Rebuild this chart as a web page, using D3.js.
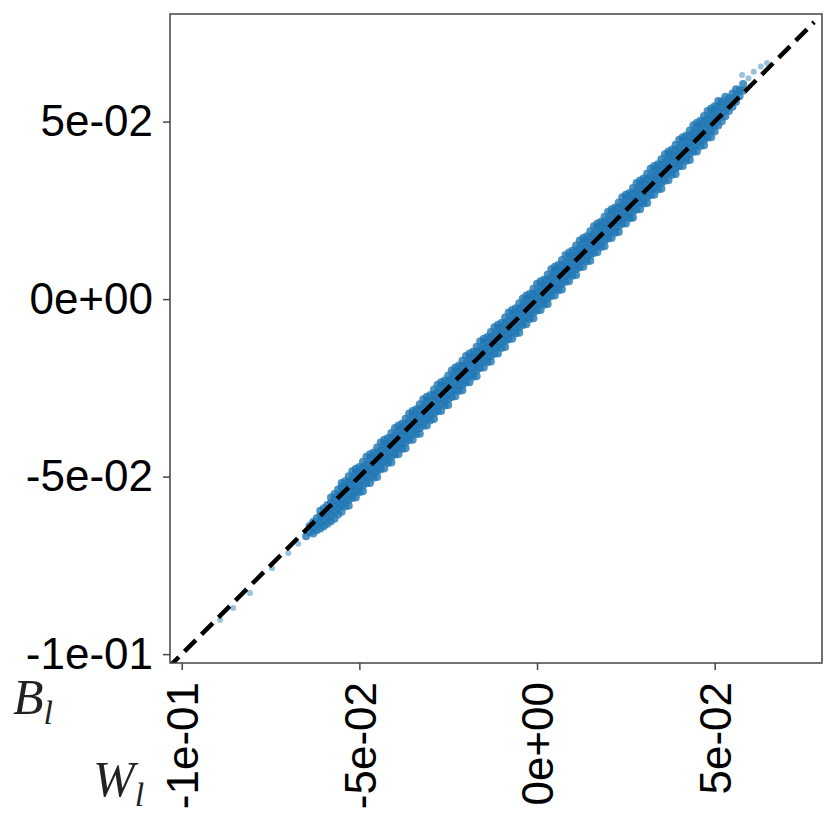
<!DOCTYPE html>
<html>
<head>
<meta charset="utf-8">
<script src="https://cdn.jsdelivr.net/npm/d3@7"></script>
<style>
  html, body { margin: 0; padding: 0; background: #fff; }
  svg { display: block; }
</style>
</head>
<body>
<svg id="chart" width="832" height="834"></svg>
<script>
// ---- DATA (values in units of 1e-3) ----
// Each row: [W_l value, [B_l values observed at that W_l]]
const bandRows = [
  [-65, [-66.8]],
  [-64, [-65.6, -63.9]],
  [-63, [-66.0, -64.3, -62.8]],
  [-62, [-65.1, -63.4, -61.7]],
  [-61, [-64.6, -62.8, -61.0, -59.6]],
  [-60, [-64.0, -62.2, -60.5, -58.9]],
  [-59, [-63.3, -61.4, -59.7, -58.0]],
  [-58, [-62.6, -60.8, -59.1, -57.4, -55.9]],
  [-57, [-61.9, -60.0, -58.2, -56.5, -54.9]],
  [-56, [-60.7, -58.9, -57.2, -55.4, -53.6]],
  [-55, [-59.9, -58.1, -56.4, -54.6, -52.9, -51.8]],
  [-54, [-58.4, -56.7, -54.7, -53.0, -51.3]],
  [-53, [-58.2, -56.6, -54.9, -53.2, -51.5, -49.9]],
  [-52, [-56.0, -54.2, -52.4, -50.7, -48.5]],
  [-51, [-55.9, -54.1, -52.4, -50.6, -48.9, -47.8]],
  [-50, [-54.4, -52.7, -50.7, -49.0, -47.3]],
  [-49, [-54.1, -52.5, -50.8, -49.1, -47.4, -45.8]],
  [-48, [-51.9, -50.1, -48.3, -46.6, -44.4]],
  [-47, [-51.8, -50.0, -48.3, -46.5, -44.8, -43.7]],
  [-46, [-50.3, -48.6, -46.6, -44.9, -43.2]],
  [-45, [-50.1, -48.5, -46.8, -45.1, -43.4, -41.8]],
  [-44, [-47.9, -46.1, -44.3, -42.6, -40.4]],
  [-43, [-47.7, -45.9, -44.2, -42.4, -40.7, -39.6]],
  [-42, [-46.2, -44.5, -42.5, -40.8, -39.1]],
  [-41, [-46.0, -44.4, -42.7, -41.0, -39.3, -37.7]],
  [-40, [-43.8, -42.0, -40.2, -38.5, -36.3]],
  [-39, [-43.7, -41.9, -40.2, -38.4, -36.7, -35.6]],
  [-38, [-42.2, -40.5, -38.5, -36.8, -35.1]],
  [-37, [-42.0, -40.4, -38.7, -37.0, -35.3, -33.7]],
  [-36, [-39.7, -37.9, -36.1, -34.4, -32.2]],
  [-35, [-39.6, -37.8, -36.1, -34.3, -32.6, -31.5]],
  [-34, [-38.1, -36.4, -34.4, -32.7, -31.0]],
  [-33, [-37.9, -36.3, -34.6, -32.9, -31.2, -29.6]],
  [-32, [-35.7, -33.9, -32.1, -30.4, -28.2]],
  [-31, [-35.6, -33.8, -32.1, -30.3, -28.6, -27.5]],
  [-30, [-34.1, -32.4, -30.4, -28.7, -27.0]],
  [-29, [-33.8, -32.2, -30.5, -28.8, -27.1, -25.5]],
  [-28, [-31.6, -29.8, -28.0, -26.3, -24.1]],
  [-27, [-31.5, -29.7, -28.0, -26.2, -24.5, -23.4]],
  [-26, [-30.0, -28.3, -26.3, -24.6, -22.9]],
  [-25, [-29.8, -28.2, -26.5, -24.8, -23.1, -21.5]],
  [-24, [-27.6, -25.8, -24.0, -22.3, -20.1]],
  [-23, [-27.4, -25.6, -23.9, -22.1, -20.4, -19.3]],
  [-22, [-25.9, -24.2, -22.2, -20.5, -18.8]],
  [-21, [-25.7, -24.1, -22.4, -20.7, -19.0, -17.4]],
  [-20, [-23.5, -21.7, -19.9, -18.2, -16.0]],
  [-19, [-23.4, -21.6, -19.9, -18.1, -16.4, -15.3]],
  [-18, [-21.9, -20.2, -18.2, -16.5, -14.8]],
  [-17, [-21.7, -20.1, -18.4, -16.7, -15.0, -13.4]],
  [-16, [-19.4, -17.6, -15.8, -14.1, -11.9]],
  [-15, [-19.3, -17.5, -15.8, -14.0, -12.3, -11.2]],
  [-14, [-17.8, -16.1, -14.1, -12.4, -10.7]],
  [-13, [-17.6, -16.0, -14.3, -12.6, -10.9, -9.3]],
  [-12, [-15.4, -13.6, -11.8, -10.1, -7.9]],
  [-11, [-15.3, -13.5, -11.8, -10.0, -8.3, -7.2]],
  [-10, [-13.8, -12.1, -10.1, -8.4, -6.7]],
  [-9, [-13.5, -11.9, -10.2, -8.5, -6.8, -5.2]],
  [-8, [-11.3, -9.5, -7.7, -6.0, -3.8]],
  [-7, [-11.2, -9.4, -7.7, -5.9, -4.2, -3.1]],
  [-6, [-9.7, -8.0, -6.0, -4.3, -2.6]],
  [-5, [-9.5, -7.9, -6.2, -4.5, -2.8, -1.2]],
  [-4, [-7.3, -5.5, -3.7, -2.0, 0.2]],
  [-3, [-7.1, -5.3, -3.6, -1.8, -0.1, 1.0]],
  [-2, [-5.6, -3.9, -1.9, -0.2, 1.5]],
  [-1, [-5.4, -3.8, -2.1, -0.4, 1.3, 2.9]],
  [0, [-3.2, -1.4, 0.4, 2.1, 4.3]],
  [1, [-3.1, -1.3, 0.4, 2.2, 3.9, 5.0]],
  [2, [-1.6, 0.1, 2.1, 3.8, 5.5]],
  [3, [-1.4, 0.2, 1.9, 3.6, 5.3, 6.9]],
  [4, [0.9, 2.7, 4.5, 6.2, 8.4]],
  [5, [1.0, 2.8, 4.5, 6.3, 8.0, 9.1]],
  [6, [2.5, 4.2, 6.2, 7.9, 9.6]],
  [7, [2.7, 4.3, 6.0, 7.7, 9.4, 11.0]],
  [8, [4.9, 6.7, 8.5, 10.2, 12.4]],
  [9, [5.0, 6.8, 8.5, 10.3, 12.0, 13.1]],
  [10, [6.6, 8.3, 10.3, 12.0, 13.7]],
  [11, [6.8, 8.4, 10.1, 11.8, 13.5, 15.1]],
  [12, [9.0, 10.8, 12.6, 14.3, 16.5]],
  [13, [9.1, 10.9, 12.6, 14.4, 16.1, 17.2]],
  [14, [10.6, 12.3, 14.3, 16.0, 17.7]],
  [15, [10.8, 12.4, 14.1, 15.8, 17.5, 19.1]],
  [16, [13.0, 14.8, 16.6, 18.3, 20.5]],
  [17, [13.2, 15.0, 16.7, 18.5, 20.2, 21.3]],
  [18, [14.7, 16.4, 18.4, 20.1, 21.8]],
  [19, [14.9, 16.5, 18.2, 19.9, 21.6, 23.2]],
  [20, [17.1, 18.9, 20.7, 22.4, 24.6]],
  [21, [17.2, 19.0, 20.7, 22.5, 24.2, 25.3]],
  [22, [18.7, 20.4, 22.4, 24.1, 25.8]],
  [23, [18.9, 20.5, 22.2, 23.9, 25.6, 27.2]],
  [24, [21.2, 23.0, 24.8, 26.5, 28.7]],
  [25, [21.3, 23.1, 24.8, 26.6, 28.3, 29.4]],
  [26, [22.8, 24.5, 26.5, 28.2, 29.9]],
  [27, [23.0, 24.6, 26.3, 28.0, 29.7, 31.3]],
  [28, [25.2, 27.0, 28.8, 30.5, 32.7]],
  [29, [25.3, 27.1, 28.8, 30.6, 32.3, 33.4]],
  [30, [26.9, 28.6, 30.6, 32.3, 34.0]],
  [31, [27.1, 28.7, 30.4, 32.1, 33.8, 35.4]],
  [32, [29.3, 31.1, 32.9, 34.6, 36.8]],
  [33, [29.4, 31.2, 32.9, 34.7, 36.4, 37.5]],
  [34, [30.9, 32.6, 34.6, 36.3, 38.0]],
  [35, [31.1, 32.7, 34.4, 36.1, 37.8, 39.4]],
  [36, [33.3, 35.1, 36.9, 38.6, 40.8]],
  [37, [33.5, 35.3, 37.0, 38.8, 40.5, 41.6]],
  [38, [35.0, 36.7, 38.7, 40.4, 42.1]],
  [39, [35.2, 36.8, 38.5, 40.2, 41.9, 43.5]],
  [40, [37.4, 39.2, 41.0, 42.7, 44.9]],
  [41, [37.5, 39.3, 41.0, 42.8, 44.5, 45.6]],
  [42, [39.0, 40.7, 42.7, 44.4, 46.1]],
  [43, [39.2, 40.8, 42.5, 44.2, 45.9, 47.5]],
  [44, [41.5, 43.3, 45.1, 46.8, 49.0]],
  [45, [41.6, 43.4, 45.1, 46.9, 48.6, 49.7]],
  [46, [43.1, 44.8, 46.8, 48.5, 50.2]],
  [47, [43.3, 44.9, 46.6, 48.3, 50.0, 51.6]],
  [48, [45.5, 47.3, 49.1, 50.8, 53.0]],
  [49, [45.6, 47.4, 49.1, 50.9, 52.6, 53.7]],
  [50, [47.2, 48.9, 50.9, 52.6, 54.3]],
  [51, [48.9, 50.8, 52.6, 54.4, 55.8]],
  [52, [50.1, 52.0, 53.9, 55.7]],
  [53, [51.5, 53.4, 55.2, 57.0]],
  [54, [53.0, 54.9, 56.6]],
  [55, [54.2, 56.0, 57.9]],
  [56, [55.6, 57.5, 59.1]],
  [57, [57.1, 58.9]],
  [58, [58.7, 60.6]]
];
// sparse points away from the dense band: [W_l, B_l] (1e-3 units)
const outlierW = [-89.2, -85.5, -80.8, -74.6, -70.0, -67.2, 26.8, 57.7, 59.5, 61.0, 63.0, 64.7];
const outlierB = [-90.4, -87.0, -82.8, -75.8, -71.5, -68.9, 22.6, 63.1, 62.2, 64.0, 65.5, 66.5];

const tickValues = [-0.1, -0.05, 0, 0.05];
const tickLabels = ["-1e-01", "-5e-02", "0e+00", "5e-02"];
const xDomain = [-0.1033, 0.0802];
const yDomain = [-0.1025, 0.0803];
const refLine = [-0.104, 0.078];   // y = x reference line extent
const UNIT = 1e-3;

// ---- build points ----
const points = [];
bandRows.forEach(([w, bs]) => bs.forEach(b => points.push({w: w * UNIT, b: b * UNIT})));
const outliers = outlierW.map((w, i) => ({w: w * UNIT, b: outlierB[i] * UNIT}));

// ---- layout ----
const svg = d3.select("#chart");
const L = 170, R = 822, T = 14, B = 663;
const x = d3.scaleLinear().domain(xDomain).range([L, R]);
const y = d3.scaleLinear().domain(yDomain).range([B, T]);

svg.append("defs").append("clipPath").attr("id", "clip")
  .append("rect").attr("x", L).attr("y", T).attr("width", R - L).attr("height", B - T);

const plot = svg.append("g").attr("clip-path", "url(#clip)");

plot.append("g").selectAll("circle").data(points).join("circle")
  .attr("cx", d => x(d.w))
  .attr("cy", d => y(d.b))
  .attr("r", 4)
  .attr("fill", "#1f77b4")
  .attr("fill-opacity", 0.8);

plot.append("g").selectAll("circle").data(outliers).join("circle")
  .attr("cx", d => x(d.w))
  .attr("cy", d => y(d.b))
  .attr("r", 3)
  .attr("fill", "#1f77b4")
  .attr("fill-opacity", 0.45);

plot.append("line")
  .attr("x1", x(refLine[0])).attr("y1", y(refLine[0]))
  .attr("x2", x(refLine[1])).attr("y2", y(refLine[1]))
  .attr("stroke", "#000")
  .attr("stroke-width", 4.5)
  .attr("stroke-dasharray", "16,8");

// frame
svg.append("rect")
  .attr("x", L).attr("y", T).attr("width", R - L).attr("height", B - T)
  .attr("fill", "none").attr("stroke", "#444").attr("stroke-width", 1.5);

// axes
const fontFam = "'Liberation Sans', Arial, Helvetica, sans-serif";
const yAxis = d3.axisLeft(y).tickValues(tickValues).tickFormat((d, i) => tickLabels[i]).tickSize(7).tickPadding(10);
const gy = svg.append("g").attr("transform", `translate(${L},0)`).call(yAxis);
gy.select(".domain").remove();
gy.selectAll(".tick line").attr("stroke", "#444").attr("stroke-width", 1.5);
gy.selectAll(".tick text").attr("font-family", fontFam).attr("font-size", 44).attr("fill", "#000");

const xAxis = d3.axisBottom(x).tickValues(tickValues).tickFormat((d, i) => tickLabels[i]).tickSize(7).tickPadding(10);
const gx = svg.append("g").attr("transform", `translate(0,${B})`).call(xAxis);
gx.select(".domain").remove();
gx.selectAll(".tick line").attr("stroke", "#444").attr("stroke-width", 1.5);
gx.selectAll(".tick text")
  .attr("font-family", fontFam).attr("font-size", 44).attr("fill", "#000")
  .attr("transform", "rotate(-90)")
  .attr("text-anchor", "end")
  .attr("x", -19).attr("y", 0).attr("dy", "0.36em");

// math labels
const serif = "'Liberation Serif', 'Times New Roman', serif";
function mathLabel(px, py, main) {
  const t = svg.append("text").attr("x", px).attr("y", py)
    .attr("font-family", serif).attr("font-style", "italic").attr("font-size", 50).attr("fill", "#222");
  t.append("tspan").text(main);
  t.append("tspan").attr("font-size", 34).attr("dy", 10).text("l");
}
mathLabel(13, 714, "B");
mathLabel(93, 796, "W");
</script>
</body>
</html>
